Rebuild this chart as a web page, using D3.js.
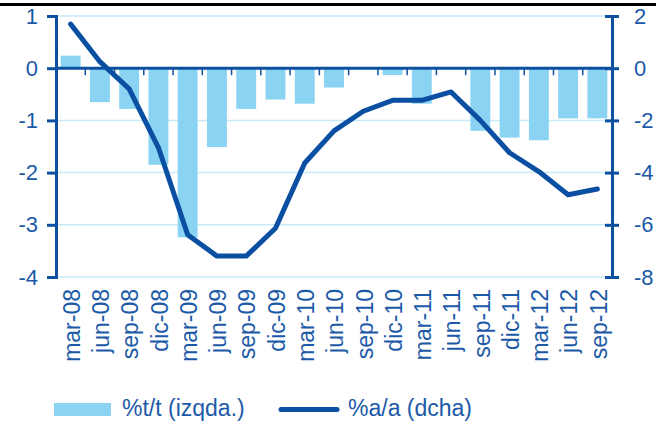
<!DOCTYPE html>
<html>
<head>
<meta charset="utf-8">
<script src="https://cdn.jsdelivr.net/npm/d3@7"></script>
<style>
  body { margin: 0; background: #fff; }
  text { font-family: "Liberation Sans", Arial, sans-serif; }
</style>
</head>
<body>
<script>
//Categories (quarters)
var quarters = ["mar-08","jun-08","sep-08","dic-08","mar-09","jun-09","sep-09","dic-09",
  "mar-10","jun-10","sep-10","dic-10","mar-11","jun-11","sep-11","dic-11",
  "mar-12","jun-12","sep-12"];

//%t/t (left axis, bars)
var qoq = [0.24, -0.65, -0.78, -1.85, -3.24, -1.51, -0.78, -0.6, -0.68, -0.37,
  0, -0.13, -0.68, 0, -1.2, -1.33, -1.38, -0.96, -0.96];

//%a/a (right axis, line)
var yoy = [1.69, 0.25, -0.79, -3.04, -6.38, -7.2, -7.2, -6.13, -3.63, -2.4,
  -1.65, -1.23, -1.23, -0.91, -2.0, -3.24, -3.96, -4.85, -4.63];

var leftTicks = [1, 0, -1, -2, -3, -4];
var rightTicks = [2, 0, -2, -4, -6, -8];

var barColor = "#8ad3f2";
var lineColor = "#0a4fa2";
var axisColor = "#0d50a0";
var textColor = "#1c5aa8";
var gridColor = "#c8e9f7";

var W = 656, H = 424;
var margin = {top: 16, right: 44, bottom: 147, left: 56};
var x0 = margin.left, x1 = W - margin.right;
var yTop = margin.top, yBot = H - margin.bottom;

var svg = d3.select("body").append("svg")
  .attr("width", W)
  .attr("height", H);

//plain hyphen for negatives, like the original
var fmt = function (d) { return String(d); };

//scales
var x = d3.scaleBand()
  .domain(quarters)
  .range([x0, x1])
  .paddingInner(0.32)
  .paddingOuter(0.16);

var yL = d3.scaleLinear().domain([-4, 1]).range([yBot, yTop]);
var yR = d3.scaleLinear().domain([-8, 2]).range([yBot, yTop]);

//top rule (cut title)
svg.append("line")
  .attr("x1", 0).attr("x2", W)
  .attr("y1", 4.5).attr("y2", 4.5)
  .attr("stroke", "#000").attr("stroke-width", 3);

//gridlines
svg.append("g").selectAll("line")
  .data(leftTicks.filter(function (d) { return d !== 0; }))
  .enter().append("line")
  .attr("x1", x0).attr("x2", x1)
  .attr("y1", function (d) { return yL(d); })
  .attr("y2", function (d) { return yL(d); })
  .attr("stroke", gridColor)
  .attr("stroke-width", 1.5);

//bars
svg.append("g").selectAll("rect")
  .data(qoq)
  .enter().append("rect")
  .attr("x", function (d, i) { return x(quarters[i]); })
  .attr("width", x.bandwidth())
  .attr("y", function (d) { return yL(Math.max(0, d)); })
  .attr("height", function (d) { return Math.abs(yL(d) - yL(0)); })
  .attr("fill", barColor);

//zero axis with ticks between categories
svg.append("line")
  .attr("x1", x0).attr("x2", x1)
  .attr("y1", yL(0)).attr("y2", yL(0))
  .attr("stroke", axisColor).attr("stroke-width", 3);

var step = x.step();
svg.append("g").selectAll("line")
  .data(quarters.slice(1))
  .enter().append("line")
  .attr("x1", function (d) { return x(d) - step * 0.16; })
  .attr("x2", function (d) { return x(d) - step * 0.16; })
  .attr("y1", yL(0))
  .attr("y2", yL(0) + 7)
  .attr("stroke", axisColor).attr("stroke-width", 1.5);

//left axis
var axL = svg.append("g")
  .attr("transform", "translate(" + x0 + ",0)")
  .call(d3.axisLeft(yL).tickValues(leftTicks).tickSize(9).tickPadding(9).tickFormat(fmt));
axL.select(".domain").attr("stroke", axisColor).attr("stroke-width", 3);
axL.selectAll(".tick line").attr("stroke", axisColor).attr("stroke-width", 3);
axL.selectAll("text").attr("fill", textColor).style("font-size", "22px")
  .style("font-family", "Liberation Sans, Arial, sans-serif");

//right axis
var axR = svg.append("g")
  .attr("transform", "translate(" + x1 + ",0)")
  .call(d3.axisRight(yR).tickValues(rightTicks).tickSize(7).tickPadding(15).tickFormat(fmt));
axR.select(".domain").attr("stroke", axisColor).attr("stroke-width", 3);
axR.selectAll(".tick line").attr("stroke", axisColor).attr("stroke-width", 3).attr("x1", -7);
axR.selectAll("text").attr("fill", textColor).style("font-size", "22px")
  .style("font-family", "Liberation Sans, Arial, sans-serif");

//line
var line = d3.line()
  .x(function (d, i) { return x(quarters[i]) + x.bandwidth() / 2; })
  .y(function (d) { return yR(d); });

svg.append("path")
  .datum(yoy)
  .attr("d", line)
  .attr("fill", "none")
  .attr("stroke", lineColor)
  .attr("stroke-width", 5)
  .attr("stroke-linejoin", "round")
  .attr("stroke-linecap", "round");

//category labels
svg.append("g").selectAll("text")
  .data(quarters)
  .enter().append("text")
  .attr("transform", function (d) {
    return "translate(" + (x(d) + x.bandwidth() / 2 + 1) + "," + 289 + ") rotate(-90)";
  })
  .attr("text-anchor", "end")
  .attr("dy", "0.36em")
  .attr("fill", textColor)
  .style("font-size", "23px")
  .text(function (d) { return d; });

//legend
var lg = svg.append("g");
lg.append("rect")
  .attr("x", 54).attr("y", 403)
  .attr("width", 57).attr("height", 13)
  .attr("fill", barColor);
lg.append("text")
  .attr("x", 122).attr("y", 416)
  .attr("fill", textColor)
  .style("font-size", "23px")
  .text("%t/t (izqda.)");
lg.append("line")
  .attr("x1", 281).attr("x2", 337)
  .attr("y1", 409.5).attr("y2", 409.5)
  .attr("stroke", lineColor)
  .attr("stroke-width", 5)
  .attr("stroke-linecap", "round");
lg.append("text")
  .attr("x", 348).attr("y", 416)
  .attr("fill", textColor)
  .style("font-size", "23px")
  .text("%a/a (dcha)");
</script>
</body>
</html>
